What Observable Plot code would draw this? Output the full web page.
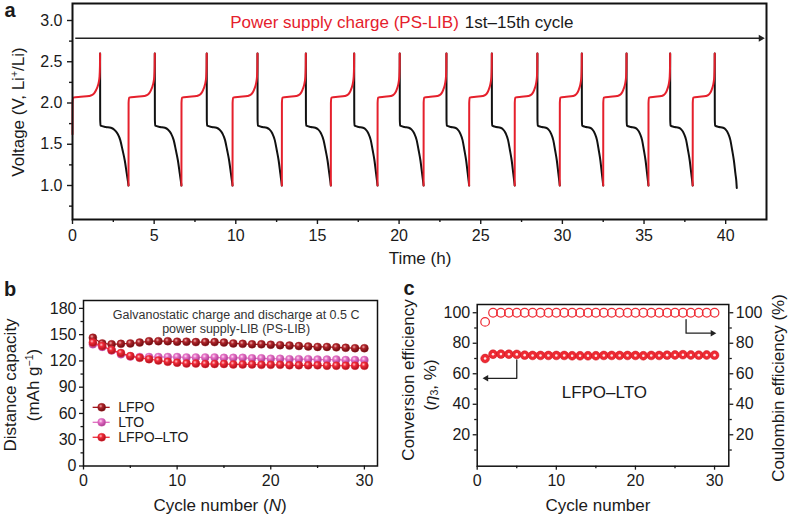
<!DOCTYPE html>
<html><head><meta charset="utf-8">
<script src="https://cdn.jsdelivr.net/npm/d3@7"></script>
<script src="https://cdn.jsdelivr.net/npm/@observablehq/plot@0.6"></script>
<style>
body{margin:0;background:#fff}
#fig{position:relative;width:788px;height:515px;overflow:hidden;background:#fff;font-family:"Liberation Sans",Arial,Helvetica,sans-serif;color:#1a1a1a}
.p{position:absolute}
.lbl{position:absolute;transform:translate(-50%,-50%);white-space:nowrap;font-size:17px;line-height:1}
.rot{transform:translate(-50%,-50%) rotate(-90deg)}
.let{font-weight:bold;font-size:20px;line-height:0.9}
sup{font-size:0.62em;vertical-align:0.55em;line-height:0}
sub{font-size:0.62em;vertical-align:-0.25em;line-height:0}
</style></head>
<body>
<div id="fig">
<svg width="0" height="0" style="position:absolute">
<defs>
<radialGradient id="gLFPO" cx="0.38" cy="0.34" r="0.66">
<stop offset="0" stop-color="#f0b0b0"/><stop offset="0.35" stop-color="#b0242a"/><stop offset="1" stop-color="#650b0f"/>
</radialGradient>
<radialGradient id="gLTO" cx="0.38" cy="0.34" r="0.66">
<stop offset="0" stop-color="#fde0f4"/><stop offset="0.35" stop-color="#e571c6"/><stop offset="1" stop-color="#a83a90"/>
</radialGradient>
<radialGradient id="gLL" cx="0.38" cy="0.34" r="0.66">
<stop offset="0" stop-color="#ffc0c4"/><stop offset="0.35" stop-color="#f02a38"/><stop offset="1" stop-color="#a8101b"/>
</radialGradient>
</defs>
</svg>
<div id="pa" class="p" style="left:0;top:0;width:788px;height:270px"></div>
<div id="pb" class="p" style="left:0;top:270px;width:390px;height:245px"></div>
<div id="pc" class="p" style="left:390px;top:270px;width:398px;height:245px"></div>
<div class="lbl let" style="left:10px;top:10px">a</div>
<div class="lbl let" style="left:10px;top:289px">b</div>
<div class="lbl let" style="left:409px;top:288px">c</div>
<div class="lbl rot" style="left:18px;top:112px">Voltage (V, Li<sup>+</sup>/Li)</div>
<div class="lbl" style="left:420px;top:258px">Time (h)</div>
<div class="lbl rot" style="left:10px;top:385px">Distance capacity</div>
<div class="lbl rot" style="left:33px;top:385px">(mAh g<sup>−1</sup>)</div>
<div class="lbl" style="left:220px;top:505px">Cycle number (<i>N</i>)</div>
<div class="lbl rot" style="left:408px;top:380px">Conversion efficiency</div>
<div class="lbl rot" style="left:430px;top:385px">(<i>η</i><sub>3</sub>, %)</div>
<div class="lbl rot" style="left:778px;top:388px">Coulombin efficiency (%)</div>
<div class="lbl" style="left:598px;top:505px">Cycle number</div>
</div>
<script>
// ---------- Panel a data ----------
const timeTicks = [0, 5, 10, 15, 20, 25, 30, 35, 40];
const timeMinor = [2.5, 7.5, 12.5, 17.5, 22.5, 27.5, 32.5, 37.5];
const voltTicks = [1.0, 1.5, 2.0, 2.5, 3.0];
const voltMinor = [0.75, 1.25, 1.75, 2.25, 2.75];
const chargeStart = [0, 3.43, 6.67, 9.80, 12.82, 15.82, 18.68, 21.50, 24.29, 27.08, 29.84, 32.50, 35.27, 37.98];
const chargeEnd = [1.69, 5.04, 8.22, 11.33, 14.29, 17.25, 20.04, 22.90, 25.68, 28.47, 31.19, 33.93, 36.60, 39.33];
const dischargeEnd = [3.43, 6.67, 9.80, 12.82, 15.82, 18.68, 21.50, 24.29, 27.08, 29.84, 32.50, 35.27, 37.98, 40.68];
const chargeFrac = [0, 0.003, 0.02, 0.3, 0.6, 0.7, 0.79, 0.86, 0.91, 0.95, 0.98, 0.995, 1];
const chargeVolt = [1.0, 2.0, 2.065, 2.075, 2.085, 2.095, 2.12, 2.16, 2.2, 2.25, 2.32, 2.45, 2.6];
const dischargeFrac = [0, 0.003, 0.015, 0.2, 0.38, 0.49, 0.61, 0.71, 0.79, 0.87, 0.94, 0.98, 1];
const dischargeVolt = [2.6, 1.8, 1.725, 1.71, 1.70, 1.68, 1.63, 1.55, 1.43, 1.30, 1.14, 1.05, 1.0];
const firstChargeStartVolt = 1.62;
const lastDischargeEndVolt = 0.97;
const arrowLevel = [2.785];
const headerRed = ["Power supply charge (PS-LIB)"];
const headerBlack = ["1st\u201315th cycle"];

// ---------- Panel b data ----------
const cycles = [1,2,3,4,5,6,7,8,9,10,11,12,13,14,15,16,17,18,19,20,21,22,23,24,25,26,27,28,29,30];
const capTicks = [0, 30, 60, 90, 120, 150, 180];
const capMinor = [15, 45, 75, 105, 135, 165];
const cycleTicks = [0, 10, 20, 30];
const cycleMinor = [5, 15, 25];
const lfpo = [146.5,140,139,139.5,140,141,142.5,142.5,142.5,142,142,141.5,141.5,141.5,141,140,139.5,139,139,138.5,138,137.5,137,136.5,136,136,135.5,135,134.5,134.5];
const lto = [139,136,132,127.5,125,124.5,124.5,124.5,124.5,124.5,124,124,124,124,123.5,123.5,123.5,123,123,122.5,122.5,122,122,122,121.5,121.5,121.5,121,121,121];
const lfpoLto = [141,137,132.5,129,125.5,123.5,122,120.5,119,118,117,117,116.5,116.5,116.5,116,116,116,115.5,115.5,115.5,115,115,115,115,114.5,114.5,114.5,114.5,114.5];
const seriesNames = ["LFPO", "LTO", "LFPO\u2013LTO"];
const noteText = ["Galvanostatic charge and discharge at 0.5 C\npower supply-LIB (PS-LIB)"];

// ---------- Panel c data ----------
const effTicks = [20, 40, 60, 80, 100];
const effMinor = [10, 30, 50, 70, 90];
const coulombic = [94,100,100,100,100,100,100,100,100,100,100,100,100,100,100,100,100,100,100,100,100,100,100,100,100,100,100,100,100,100];
const conversion = [70,72.8,72.9,72.8,72.7,72.2,72,72,72,72,72,71.8,71.8,71.8,71.8,72,72,72,72,72,71.8,72,72,72.2,72.3,72.5,72.3,72.2,72.3,72.2];
const cLabel = ["LFPO\u2013LTO"];

// ---------- build ----------
const font = '"Liberation Sans", Arial, Helvetica, sans-serif';
const baseStyle = {fontFamily: font, fontSize: "16px", color: "#1a1a1a", background: "transparent", overflow: "visible", maxWidth: "none"};
const RED = "#e5202c";

const chargeRows = [], dischargeRows = [];
chargeStart.forEach((s, i) => {
  const p = chargeEnd[i], e = dischargeEnd[i];
  chargeFrac.forEach((f, k) => chargeRows.push({cycle: i, t: s + f * (p - s), v: (i === 0 && k === 0) ? firstChargeStartVolt : chargeVolt[k]}));
  dischargeFrac.forEach((f, k) => dischargeRows.push({cycle: i, t: p + f * (e - p), v: (i === chargeStart.length - 1 && k === dischargeFrac.length - 1) ? lastDischargeEndVolt : dischargeVolt[k]}));
});

const pa = Plot.plot({
  width: 788, height: 270, marginLeft: 72, marginRight: 22, marginTop: 3, marginBottom: 51,
  x: {domain: [0, 42.5]}, y: {domain: [0.588, 3.206]},
  style: baseStyle,
  marks: [
    Plot.axisX({ticks: timeTicks, tickSize: 5, tickPadding: 5, strokeWidth: 1.4, label: null, tickFormat: d => d}),
    Plot.axisX({ticks: timeMinor, tickSize: 3, strokeWidth: 1.4, label: null, tickFormat: () => ""}),
    Plot.axisY({ticks: voltTicks, tickSize: 5, tickPadding: 5, strokeWidth: 1.4, label: null, tickFormat: d3.format(".1f")}),
    Plot.axisY({ticks: voltMinor, tickSize: 3, strokeWidth: 1.4, label: null, tickFormat: () => ""}),
    Plot.line(dischargeRows, {x: "t", y: "v", z: "cycle", stroke: "#111", strokeWidth: 2, curve: "monotone-x"}),
    Plot.line(chargeRows, {x: "t", y: "v", z: "cycle", stroke: RED, strokeWidth: 2, curve: "monotone-x"}),
    Plot.ruleY(arrowLevel, {x1: () => 0.2, x2: () => 42.1, stroke: "#222", strokeWidth: 1.3}),
    Plot.dot(arrowLevel, {x: () => 42.15, y: d => d, symbol: "triangle", r: 2.6, fill: "#222", rotate: 90}),
    Plot.text(headerRed, {x: () => 23.72, y: () => 2.975, text: d => d, textAnchor: "end", fill: RED, fontSize: 17, dx: -1}),
    Plot.text(headerBlack, {x: () => 23.72, y: () => 2.975, text: d => d, textAnchor: "start", fill: "#1a1a1a", fontSize: 17, dx: 5}),
    Plot.frame({stroke: "#111", strokeWidth: 2})
  ]
});
document.getElementById("pa").append(pa);

const bSeries = [
  {name: seriesNames[0], vals: lfpo, color: "#a3161c", grad: "url(#gLFPO)"},
  {name: seriesNames[1], vals: lto, color: "#e06cc0", grad: "url(#gLTO)"},
  {name: seriesNames[2], vals: lfpoLto, color: "#ee2634", grad: "url(#gLL)"}
];
const bMarks = [];
bSeries.forEach(s => {
  const rows = cycles.map((c, i) => ({cycle: c, cap: s.vals[i]}));
  bMarks.push(Plot.line(rows, {x: "cycle", y: "cap", stroke: s.color, strokeWidth: 1.2}));
  bMarks.push(Plot.dot(rows, {x: "cycle", y: "cap", r: 4, fill: s.grad, stroke: s.color, strokeWidth: 0.4}));
});
// legend rows (layout in data units of the panel)
bSeries.forEach((s, i) => {
  const ly = 67 - i * 17.1;
  bMarks.push(Plot.ruleY([ly], {x1: () => 1.03, x2: () => 2.85, stroke: s.color, strokeWidth: 1.3}));
  bMarks.push(Plot.dot([ly], {x: () => 1.94, y: d => d, r: 4, fill: s.grad, stroke: s.color, strokeWidth: 0.4}));
  bMarks.push(Plot.text([s.name], {x: () => 3.7, y: () => ly, text: d => d, textAnchor: "start", fontSize: 14, fill: "#1a1a1a"}));
});

const pb = Plot.plot({
  width: 390, height: 245, marginLeft: 83, marginRight: 13, marginTop: 30, marginBottom: 49.5,
  x: {domain: [0, 31.4]}, y: {domain: [0, 189]},
  style: baseStyle,
  marks: [
    Plot.axisY({ticks: capTicks, tickSize: 4, tickPadding: 3, strokeWidth: 1.3, label: null}),
    Plot.axisY({ticks: capMinor, tickSize: 2.5, strokeWidth: 1.3, label: null, tickFormat: () => ""}),
    Plot.axisX({ticks: cycleTicks, tickSize: 4, tickPadding: 4.5, strokeWidth: 1.3, label: null}),
    Plot.axisX({ticks: cycleMinor, tickSize: 2.5, strokeWidth: 1.3, label: null, tickFormat: () => ""}),
    Plot.text(noteText, {x: () => 16.3, y: () => 165, text: d => d, fontSize: 12.5, lineHeight: 1.08, fill: "#333"}),
    ...bMarks,
    Plot.frame({stroke: "#111", strokeWidth: 1.5})
  ]
});
document.getElementById("pb").append(pb);

const coulRows = cycles.map((c, i) => ({cycle: c, eff: coulombic[i]}));
const convRows = cycles.map((c, i) => ({cycle: c, eff: conversion[i]}));
const leftArrow = [
  {x: cycles[4], y: conversion[4] - 3.6},
  {x: cycles[4], y: 57},
  {x: 1.35, y: 57}
];
const rightArrow = [
  {x: 26.4, y: coulombic[26] - 4.5},
  {x: 26.4, y: 86.6},
  {x: 29.5, y: 86.6}
];
const pc = Plot.plot({
  width: 398, height: 245, marginLeft: 86.7, marginRight: 59.7, marginTop: 34, marginBottom: 49.3,
  x: {domain: [0, 31.8]}, y: {domain: [-0.6, 105.4]},
  style: baseStyle,
  marks: [
    Plot.axisY({ticks: effTicks, tickSize: 4, tickPadding: 3, strokeWidth: 1.3, label: null}),
    Plot.axisY({ticks: effMinor, tickSize: 2.5, strokeWidth: 1.3, label: null, tickFormat: () => ""}),
    Plot.axisY({anchor: "right", ticks: effTicks, tickSize: 4, tickPadding: 3, strokeWidth: 1.3, label: null}),
    Plot.axisY({anchor: "right", ticks: effMinor, tickSize: 2.5, strokeWidth: 1.3, label: null, tickFormat: () => ""}),
    Plot.axisX({ticks: cycleTicks, tickSize: 4, tickPadding: 4.5, strokeWidth: 1.3, label: null}),
    Plot.axisX({ticks: cycleMinor, tickSize: 2.5, strokeWidth: 1.3, label: null, tickFormat: () => ""}),
    Plot.dot(coulRows, {x: "cycle", y: "eff", r: 4.3, stroke: "#ee2a33", strokeWidth: 1.2, fill: "none"}),
    Plot.line(convRows, {x: "cycle", y: "eff", stroke: "#ee2a33", strokeWidth: 1.2}),
    Plot.dot(convRows, {x: "cycle", y: "eff", r: 4.4, fill: "#ee2a33", stroke: "#c8151f", strokeWidth: 0.5}),
    Plot.dot(convRows, {x: "cycle", y: "eff", r: 1.3, fill: "#ffe8e8"}),
    Plot.line(leftArrow, {x: "x", y: "y", stroke: "#222", strokeWidth: 1.3}),
    Plot.dot([leftArrow[2]], {x: () => 1.15, y: "y", symbol: "triangle", r: 2.4, fill: "#222", rotate: -90}),
    Plot.line(rightArrow, {x: "x", y: "y", stroke: "#222", strokeWidth: 1.3}),
    Plot.dot([rightArrow[2]], {x: () => 29.75, y: "y", symbol: "triangle", r: 2.4, fill: "#222", rotate: 90}),
    Plot.text(cLabel, {x: () => 16.07, y: () => 47.7, text: d => d, fontSize: 17, fill: "#1a1a1a"}),
    Plot.frame({stroke: "#111", strokeWidth: 1.5})
  ]
});
document.getElementById("pc").append(pc);
</script>
</body></html>
